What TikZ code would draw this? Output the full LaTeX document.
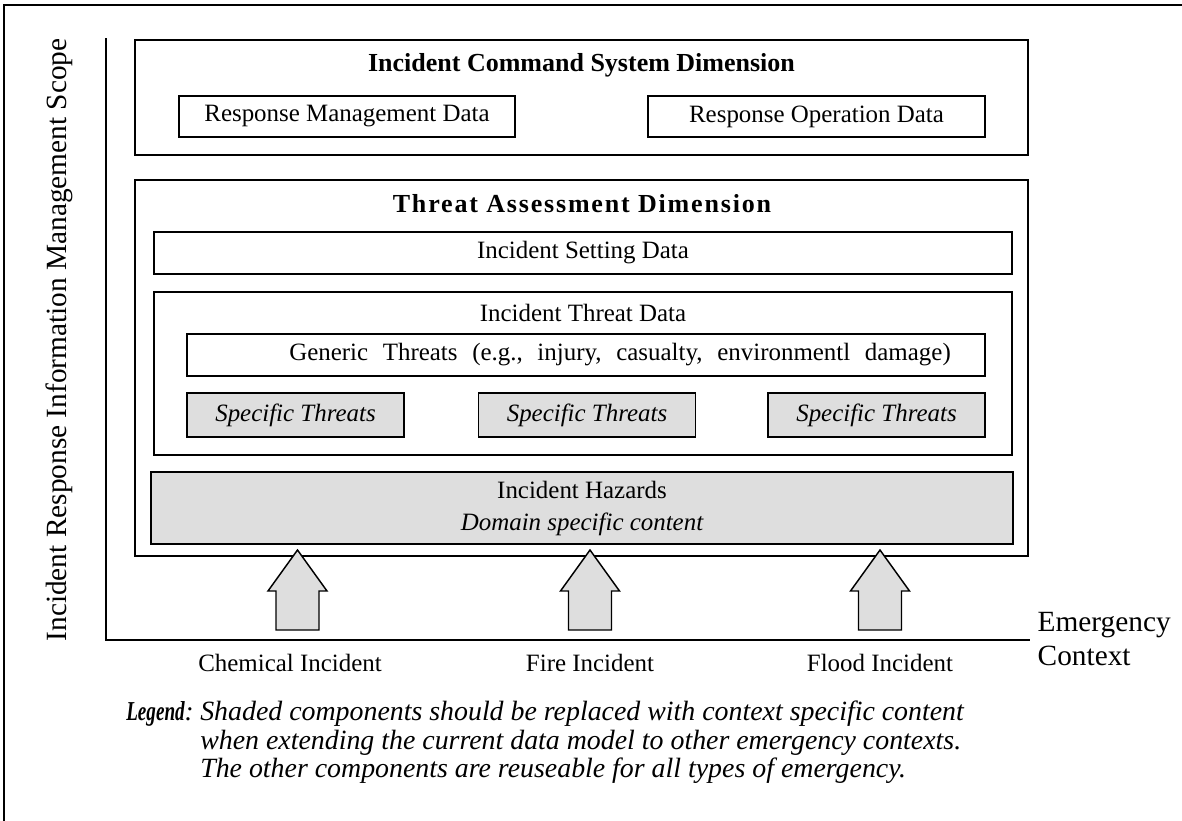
\documentclass[tikz,border=0pt]{standalone}
\usepackage{fontspec}
\setmainfont{Liberation Serif}

\begin{document}
\begin{tikzpicture}[x=0.75pt, y=-0.75pt,
    box/.style={draw, line width=1.1pt, inner sep=0pt, font=\fontsize{18.7}{22}\selectfont},
    shaded/.style={box, fill=black!13},
    boxsize/.style 2 args={minimum width=#1*0.75pt, minimum height=#2*0.75pt},
    dimtitle/.style={font=\fontsize{19.5}{23}\selectfont\bfseries},
    lbl/.style={font=\fontsize{18.7}{22}\selectfont},
    hazard/.style={draw, line width=1.1pt, fill=black!13, line join=miter}]
  \useasboundingbox (0,0) rectangle (1182,821);
  \draw[line width=2.2pt] (4,821) -- (4,5) -- (1182,5);

  % scope axis
  \coordinate (scopetop) at (106,38);
  \coordinate (corner) at (106,640);
  \coordinate (ctxend) at (1030,640);
  \draw[line width=1.1pt] (scopetop) -- (corner) -- (ctxend);
  \node[lbl, rotate=90, font=\fontsize{22}{26}\selectfont] (scope) at (59,340)
    {Incident Response Information Management Scope};

  % incident command system dimension
  \node[box, boxsize={893}{115}] (ics) at (581.5,97.5) {};
  \node[dimtitle] (icstitle) at (581.5,65) {Incident Command System Dimension};
  \node[box, boxsize={336}{41}] (rmd) at (347,116.5) {Response Management Data};
  \node[box, boxsize={337}{41}] (rod) at (816.5,116.5) {Response Operation Data};

  % threat assessment dimension
  \node[box, boxsize={893}{376}] (tad) at (581.5,368) {};
  \node[dimtitle] (tadtitle) at (582,204) {\addfontfeature{LetterSpace=7}Threat Assessment Dimension};
  \node[box, boxsize={858}{42}] (isd) at (583,253) {Incident Setting Data};
  \node[box, boxsize={858}{163}] (itd) at (583,373.5) {};
  \node[lbl] (itdtitle) at (583,313) {Incident Threat Data};
  \node[box, boxsize={798}{42}] (gen) at (586,355) {};
  \node[lbl] (gentxt) at (620,355)
    {\spaceskip=11pt Generic Threats (e.g., injury, casualty, environmentl damage)};
  \node[shaded, boxsize={217}{44}] (spec1) at (295.5,415) {\itshape Specific Threats};
  \node[shaded, boxsize={217}{44}] (spec2) at (587,415) {\itshape Specific Threats};
  \node[shaded, boxsize={217}{44}] (spec3) at (876.5,415) {\itshape Specific Threats};
  \node[shaded, boxsize={862}{72}, align=center] (haz) at (582,508)
    {Incident Hazards\\[2pt]{\itshape Domain specific content}};

  % emergency contexts
  \foreach \x/\lx/\name/\txt in {297.5/290/chem/Chemical Incident, 590/590/fire/Fire Incident, 880/880/flood/Flood Incident}{
    \draw[hazard] (\x,550) -- (\x+29.5,591) -- (\x+21.5,591) -- (\x+21.5,630)
      -- (\x-21.5,630) -- (\x-21.5,591) -- (\x-29.5,591) -- cycle;
    \node[lbl] (\name) at (\lx,663) {\txt};
  }
  \node[lbl, font=\fontsize{22}{25.5}\selectfont, align=left, anchor=west] (ctx) at (1033,639)
    {Emergency\\Context};

  % legend
  \node[anchor=base west, inner sep=0pt, font=\fontsize{20.5}{21.4}\selectfont\itshape] (legkey) at (126,720)
    {\scalebox{0.7}[1]{\textbf{Legend}}:};
  \node[anchor=north west, inner sep=0pt, align=left, font=\fontsize{20.9}{21.4}\selectfont\itshape] (legtxt) at (200,701)
    {Shaded components should be replaced with context specific content\\
     when extending the current data model to other emergency contexts.\\
     The other components are reuseable for all types of emergency.};
\end{tikzpicture}
\end{document}
